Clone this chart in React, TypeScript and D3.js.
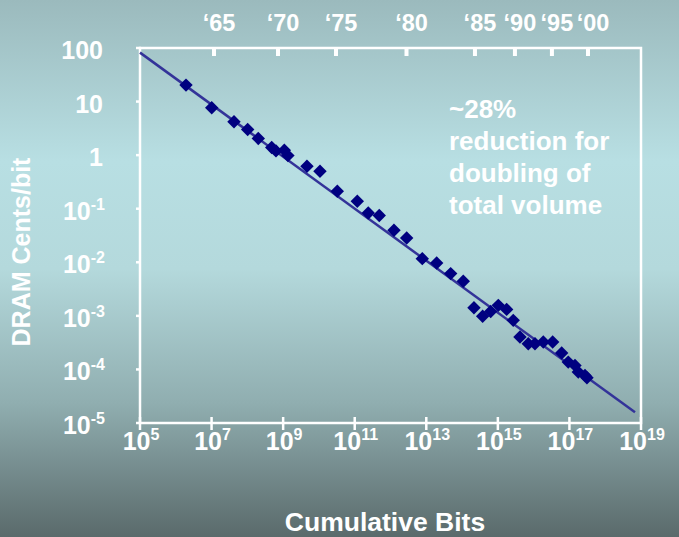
import React from "react";
import * as d3 from "d3";

const W = 679;
const H = 537;

// Data points: cumulative bits vs DRAM cents/bit
const cumulativeBits = [
  1.93e6, 1.01e7, 4.23e7, 1.02e8, 2.02e8, 4.79e8, 6.31e8, 1.08e9, 1.36e9, 4.63e9,
  1.07e10, 3.26e10, 1.18e11, 2.39e11, 4.85e11, 1.25e12, 2.83e12, 7.73e12, 1.95e13,
  4.8e13, 1.08e14, 2.15e14, 3.76e14, 6.3e14, 1.03e15, 1.76e15, 2.69e15, 4.15e15,
  7.08e15, 1.09e16, 1.86e16, 3.4e16, 6.07e16, 9.27e16, 1.43e17, 1.77e17, 2.72e17, 3.09e17,
];
const centsPerBit = [
  20.3, 7.66, 4.19, 3.02, 2.05, 1.39, 1.2, 1.24, 0.98, 0.622,
  0.502, 0.212, 0.138, 0.0834, 0.0746, 0.0396, 0.0284, 0.0117, 0.0097,
  0.00615, 0.00442, 0.00142, 0.00098, 0.00121, 0.00157, 0.00132, 0.000824, 0.000402,
  0.000302, 0.000302, 0.000324, 0.000324, 0.000202, 0.000137, 0.000119, 0.0000891, 0.0000773, 0.00007,
];

// Trend line (~28% reduction per doubling)
const trendBits = [1e5, 6.8e18];
const trendCents = [82, 1.58e-5];

// Top axis: years
const yearLabels = ["\u201865", "\u201870", "\u201875", "\u201880", "\u201885", "\u201890", "\u201895", "\u201800"];
const yearBits = [1.17e7, 7.18e8, 3.0e10, 2.8e12, 2.29e14, 3.0e15, 3.24e16, 3.3e17];

// Tick exponents
const xTickExps = [5, 7, 9, 11, 13, 15, 17, 19];
const yTickExps = [2, 1, 0, -1, -2, -3, -4, -5];

const annotationLines = ["~28%", "reduction for", "doubling of", "total volume"];

export default function App() {
  const left = 140, right = 641, top = 48, bottom = 423;
  const x = d3.scaleLog().domain([1e5, 1e19]).range([left, right]);
  const y = d3.scaleLog().domain([1e-5, 100]).range([bottom, top]);

  const line = d3
    .line<number>()
    .x((_, i) => x(trendBits[i]))
    .y((_, i) => y(trendCents[i]));

  const font = "'Liberation Sans', Arial, sans-serif";
  const diamond = d3.symbol().type(d3.symbolSquare).size(90)();

  return (
    <div style={{ position: "fixed", left: 0, top: 0, width: W, height: H }}>
      <svg width={W} height={H} style={{ display: "block" }} fontFamily={font}>
        <defs>
          <linearGradient id="bg" x1="0" y1="0" x2="0" y2="1">
            <stop offset="0" stopColor="#9bbabd" />
            <stop offset="0.3" stopColor="#b8dfe3" />
            <stop offset="0.5" stopColor="#b4d9dc" />
            <stop offset="0.75" stopColor="#90aeb0" />
            <stop offset="1" stopColor="#5a6a6b" />
          </linearGradient>
        </defs>
        <rect x={0} y={0} width={W} height={H} fill="url(#bg)" />

        {/* frame */}
        <rect x={left} y={top} width={right - left} height={bottom - top} fill="none" stroke="#fff" strokeWidth={2.5} />

        {/* left ticks */}
        {yTickExps.map((e) => (
          <line key={"yt" + e} x1={left - 4} x2={left + 1} y1={y(Math.pow(10, e))} y2={y(Math.pow(10, e))} stroke="#fff" strokeWidth={2.5} />
        ))}
        {/* bottom ticks */}
        {xTickExps.map((e) => (
          <line key={"xt" + e} x1={x(Math.pow(10, e))} x2={x(Math.pow(10, e))} y1={bottom - 6} y2={bottom + 7} stroke="#fff" strokeWidth={2.5} />
        ))}
        {/* top year ticks */}
        {yearBits.map((b, i) => (
          <rect key={"yr" + i} x={x(b) - 2} y={top} width={4} height={8} fill="#fff" />
        ))}

        {/* y tick labels */}
        {yTickExps.map((e) => {
          const yy = y(Math.pow(10, e)) + 11;
          if (e >= 0) {
            return (
              <text key={"yl" + e} x={103} y={yy} textAnchor="end" fill="#fff" fontWeight="bold" fontSize={25}>
                {String(Math.pow(10, e))}
              </text>
            );
          }
          return (
            <text key={"yl" + e} x={105} y={yy} textAnchor="end" fill="#fff" fontWeight="bold" fontSize={25}>
              10
              <tspan fontSize={16} dy={-10}>{String(e)}</tspan>
            </text>
          );
        })}

        {/* x tick labels */}
        {xTickExps.map((e) => (
          <text key={"xl" + e} x={x(Math.pow(10, e)) + 1} y={450} textAnchor="middle" fill="#fff" fontWeight="bold" fontSize={25}>
            10
            <tspan fontSize={16} dy={-10}>{String(e)}</tspan>
          </text>
        ))}

        {/* year labels */}
        {yearLabels.map((t, i) => (
          <text key={"yrl" + i} x={x(yearBits[i]) + 5} y={31} textAnchor="middle" fill="#fff" fontWeight="bold" fontSize={23.5}>
            {t}
          </text>
        ))}

        {/* trend line */}
        <path d={line(trendBits) || ""} fill="none" stroke="#333399" strokeWidth={2.5} />

        {/* points */}
        {cumulativeBits.map((b, i) => (
          <path
            key={"p" + i}
            d={diamond || ""}
            transform={`translate(${x(b)},${y(centsPerBit[i])}) rotate(45)`}
            fill="#000080"
          />
        ))}

        {/* annotation */}
        <text x={449} y={118} fill="#fff" fontWeight="bold" fontSize={26}>
          {annotationLines.map((l, i) => (
            <tspan key={i} x={449} dy={i === 0 ? 0 : 32}>
              {l}
            </tspan>
          ))}
        </text>

        {/* axis titles */}
        <text x={385} y={531} textAnchor="middle" fill="#fff" fontWeight="bold" fontSize={26.5}>
          Cumulative Bits
        </text>
        <text transform="translate(30,252) rotate(-90)" textAnchor="middle" fill="#fff" fontWeight="bold" fontSize={25}>
          DRAM Cents/bit
        </text>
      </svg>
    </div>
  );
}
